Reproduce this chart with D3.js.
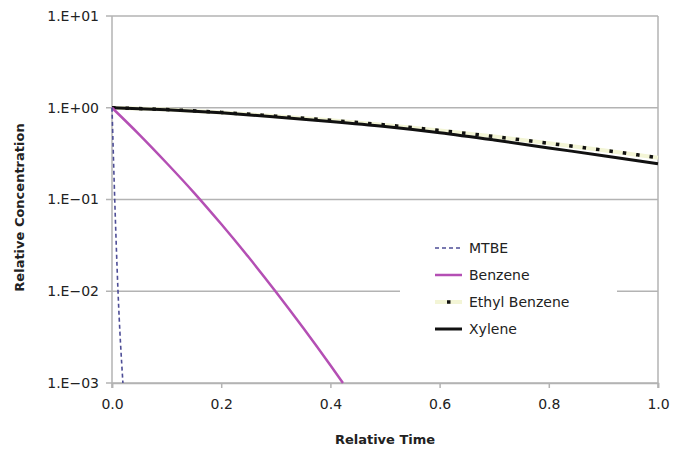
<!DOCTYPE html>
<html>
<head>
<meta charset="utf-8">
<script src="https://cdn.jsdelivr.net/npm/d3@7"></script>
<style>
  body { margin: 0; background: #fff; }
  text { font-family: Verdana, "DejaVu Sans", sans-serif; fill: #222; }
</style>
</head>
<body>
<svg id="chart" width="688" height="456"></svg>
<script>
// values (relative time, relative concentration)
var mtbeTime = [0, 0.005, 0.011, 0.02];
var mtbeConc = [1, 0.1, 0.01, 0.001];

var benzeneTime = [0, 0.05, 0.1, 0.15, 0.2, 0.25, 0.3, 0.35, 0.4, 0.423];
var benzeneConc = [1, 0.51, 0.25, 0.119, 0.054, 0.0236, 0.0099, 0.0040, 0.00156, 0.001];

var ethylTime = [0, 0.1, 0.2, 0.3, 0.4, 0.5, 0.6, 0.7, 0.8, 0.9, 1.0];
var ethylConc = [1, 0.955, 0.89, 0.81, 0.73, 0.65, 0.565, 0.485, 0.41, 0.345, 0.285];

var xyleneTime = [0, 0.1, 0.2, 0.3, 0.4, 0.5, 0.6, 0.7, 0.8, 0.9, 1.0];
var xyleneConc = [1, 0.95, 0.88, 0.795, 0.71, 0.625, 0.535, 0.445, 0.365, 0.30, 0.245];

var xTicks = [0, 0.2, 0.4, 0.6, 0.8, 1.0];
var yTicks = [1e1, 1e0, 1e-1, 1e-2, 1e-3];
var yTickLabels = ["1.E+01", "1.E+00", "1.E\u221201", "1.E\u221202", "1.E\u221203"];
var seriesNames = ["MTBE", "Benzene", "Ethyl Benzene", "Xylene"];

var svg = d3.select("#chart");
var plotLeft = 112, plotRight = 658, plotTop = 16, plotBottom = 383;

var x = d3.scaleLinear().domain([0, 1]).range([plotLeft, plotRight]);
var y = d3.scaleLog().domain([1e-3, 1e1]).range([plotBottom, plotTop]);

var grid = "#b3b3b3";

// gridlines
svg.append("g").selectAll("line").data(yTicks).enter()
  .append("line")
  .attr("x1", plotLeft - 6).attr("x2", plotRight)
  .attr("y1", function(d) { return y(d); })
  .attr("y2", function(d) { return y(d); })
  .attr("stroke", grid).attr("stroke-width", 1.5);

// left and right borders
svg.append("line").attr("x1", plotLeft).attr("x2", plotLeft)
  .attr("y1", plotTop).attr("y2", plotBottom + 5)
  .attr("stroke", grid).attr("stroke-width", 1.5);
svg.append("line").attr("x1", plotRight).attr("x2", plotRight)
  .attr("y1", plotTop).attr("y2", plotBottom + 5)
  .attr("stroke", grid).attr("stroke-width", 1.5);

// x axis
var xAxis = d3.axisBottom(x).tickValues(xTicks).tickSize(5).tickPadding(11)
  .tickFormat(d3.format(".1f"));
var gx = svg.append("g").attr("transform", "translate(0," + plotBottom + ")").call(xAxis);
gx.select(".domain").attr("stroke", grid).attr("stroke-width", 1.5);
gx.selectAll(".tick line").attr("stroke", grid).attr("stroke-width", 1.5);
gx.selectAll(".tick text").attr("font-size", 14).attr("font-family", null).attr("fill", "#222");

// y axis labels
var yAxis = d3.axisLeft(y).tickValues(yTicks).tickSize(0).tickPadding(13)
  .tickFormat(function(d, i) { return yTickLabels[i]; });
var gy = svg.append("g").attr("transform", "translate(" + plotLeft + ",0)").call(yAxis);
gy.select(".domain").remove();
gy.selectAll(".tick text").attr("font-size", 14).attr("font-family", null).attr("fill", "#222");

// axis titles
svg.append("text").attr("x", (plotLeft + plotRight) / 2).attr("y", 444)
  .attr("text-anchor", "middle").attr("font-size", 13).attr("font-weight", "bold")
  .text("Relative Time");
svg.append("text")
  .attr("transform", "translate(24," + ((plotTop + plotBottom) / 2 + 8) + ") rotate(-90)")
  .attr("text-anchor", "middle").attr("font-size", 13).attr("font-weight", "bold")
  .text("Relative Concentration");

var line = d3.line()
  .x(function(d) { return x(d[0]); })
  .y(function(d) { return y(d[1]); })
  .curve(d3.curveMonotoneX);

function pairs(t, c) { return t.map(function(v, i) { return [v, c[i]]; }); }

var plot = svg.append("g");

// Ethyl Benzene: faint pale line under square dots
plot.append("path").datum(pairs(ethylTime, ethylConc))
  .attr("d", line).attr("fill", "none")
  .attr("stroke", "#f3f5d6").attr("stroke-width", 4);

// Xylene
plot.append("path").datum(pairs(xyleneTime, xyleneConc))
  .attr("d", line).attr("fill", "none")
  .attr("stroke", "#111").attr("stroke-width", 3);

plot.append("path").datum(pairs(ethylTime, ethylConc))
  .attr("d", line).attr("fill", "none")
  .attr("stroke", "#111").attr("stroke-width", 3.5)
  .attr("stroke-dasharray", "3.5,10");

// Benzene
plot.append("path").datum(pairs(benzeneTime, benzeneConc))
  .attr("d", line).attr("fill", "none")
  .attr("stroke", "#b44fb4").attr("stroke-width", 2.5);

// MTBE
plot.append("path").datum(pairs(mtbeTime, mtbeConc))
  .attr("d", line)
  .attr("fill", "none")
  .attr("stroke", "#4d4d96").attr("stroke-width", 1.6)
  .attr("stroke-dasharray", "4,3");

// legend
var lg = svg.append("g").attr("transform", "translate(400,236)");
lg.append("rect").attr("width", 217).attr("height", 104).attr("fill", "#fff");
var item = lg.selectAll(".item").data(seriesNames).enter()
  .append("g").attr("class", "item")
  .attr("transform", function(d, i) { return "translate(0," + (12 + i * 27) + ")"; });

item.each(function(d, i) {
  var g = d3.select(this);
  if (i === 0) {
    g.append("line").attr("x1", 35).attr("x2", 62)
      .attr("stroke", "#4d4d96").attr("stroke-width", 1.6).attr("stroke-dasharray", "4,3");
  } else if (i === 1) {
    g.append("line").attr("x1", 35).attr("x2", 62)
      .attr("stroke", "#b44fb4").attr("stroke-width", 2.5);
  } else if (i === 2) {
    g.append("line").attr("x1", 35).attr("x2", 62)
      .attr("stroke", "#f3f5d6").attr("stroke-width", 4);
    g.append("rect").attr("x", 47).attr("y", -1.75).attr("width", 3.5).attr("height", 3.5)
      .attr("fill", "#111");
  } else {
    g.append("line").attr("x1", 35).attr("x2", 62)
      .attr("stroke", "#111").attr("stroke-width", 3);
  }
  g.append("text").attr("x", 69).attr("y", 5).attr("font-size", 14).text(d);
});
</script>
</body>
</html>
